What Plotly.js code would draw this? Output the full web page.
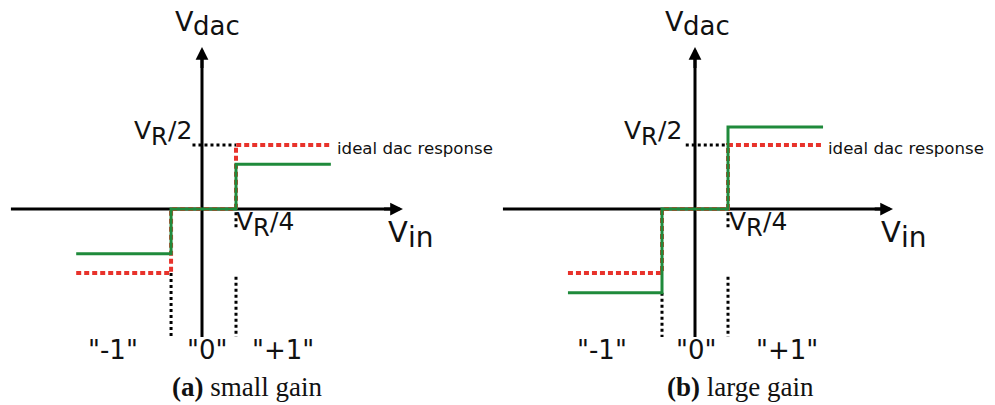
<!DOCTYPE html>
<html>
<head>
<meta charset="utf-8">
<script src="https://cdn.plot.ly/plotly-3.0.1.min.js"></script>
<style>
  html, body { margin: 0; padding: 0; background: #ffffff; }
  #chart { width: 995px; height: 405px; }
</style>
</head>
<body>
<div id="chart"></div>
<script>
// Quantizer output codes
const codes = ['"-1"', '"0"', '"+1"'];
// DAC output level for each code, in units of V_R/2
const idealLevels = [-1, 0, 1];
const smallGainLevels = [-0.70, 0, 0.70];
const largeGainLevels = [-1.31, 0, 1.28];
// Input breakpoints (start, lower threshold, upper threshold, end), in units of V_R/4
const edgesSmall = [-3.70, -0.91, 1.00, 3.79];
const edgesLarge = [-3.85, -1.00, 1.00, 3.88];
const panelTags = ['(a)', '(b)'];
const captions = ['small gain', 'large gain'];

const W = 995, H = 405;
const SANS = '"DejaVu Sans", Verdana, sans-serif';
const SERIF = '"Liberation Serif", "Times New Roman", serif';
const INK = '#111111';
const RED = '#e8322b';
const GREEN = '#1f8a3b';

// Vertical scale shared by both panels: row of the V_in axis and pixels per V_R/2
const Y0 = 209, UY = 64;
const yAxisSpan = [-2.0, 2.53];

const panels = [
  { xa: 'x',  axisPx: 202, ux: 34, edges: edgesSmall, gain: smallGainLevels, xAxis: [-5.62, 5.91], dx: 0 },
  { xa: 'x2', axisPx: 695, ux: 33, edges: edgesLarge, gain: largeGainLevels, xAxis: [-5.82, 6.00], dx: 493 }
];

const ctx = document.createElement('canvas').getContext('2d');
function measure(t, size, family, weight) {
  ctx.font = (weight || 'normal') + ' ' + size + 'px ' + family;
  return ctx.measureText(t).width;
}

const traces = [];
const shapes = [];
const annotations = [];

function stepY(levels) { return [levels[0], levels[1], levels[2], levels[2]]; }

// Text made of pieces with their own size and baseline drop (for V with subscripts)
function richLabel(parts, px, baseline, align) {
  const widths = parts.map(p => measure(p.t, p.size, SANS));
  const total = widths.reduce((a, b) => a + b, 0);
  let x = align === 'right' ? px - total : px;
  parts.forEach((p, i) => {
    const base = baseline + (p.drop || 0);
    annotations.push({
      xref: 'paper', yref: 'paper', x: x / W, y: 1 - (base - 0.346 * p.size) / H,
      xanchor: 'left', yanchor: 'middle', text: p.t, showarrow: false,
      borderpad: 0, borderwidth: 0, font: { family: SANS, size: p.size, color: INK }
    });
    x += widths[i];
  });
}

function plainLabel(text, px, baseline, anchor, size, family, k) {
  annotations.push({
    xref: 'paper', yref: 'paper', x: px / W, y: 1 - (baseline - k * size) / H,
    xanchor: anchor, yanchor: 'middle', text: text, showarrow: false,
    borderpad: 0, borderwidth: 0, font: { family: family, size: size, color: INK }
  });
}

panels.forEach((p, i) => {
  const e = p.edges;
  const low = Math.min(idealLevels[0], p.gain[0]);

  // Axes (lines under the data, arrowheads on top)
  shapes.push({ type: 'line', layer: 'below', xref: p.xa, yref: 'y',
    x0: p.xAxis[0], x1: p.xAxis[1] - 0.25, y0: 0, y1: 0, line: { color: '#000', width: 3 } });
  shapes.push({ type: 'line', layer: 'below', xref: p.xa, yref: 'y',
    x0: 0, x1: 0, y0: yAxisSpan[0], y1: yAxisSpan[1] - 0.13, line: { color: '#000', width: 3 } });
  annotations.push({ xref: p.xa, yref: 'y', axref: p.xa, ayref: 'y', x: p.xAxis[1], y: 0,
    ax: p.xAxis[1] - 0.6, ay: 0, text: '', showarrow: true, arrowhead: 2, arrowsize: 0.85,
    arrowwidth: 3, arrowcolor: '#000' });
  annotations.push({ xref: p.xa, yref: 'y', axref: p.xa, ayref: 'y', x: 0, y: yAxisSpan[1],
    ax: 0, ay: yAxisSpan[1] - 0.35, text: '', showarrow: true, arrowhead: 2, arrowsize: 0.85,
    arrowwidth: 3, arrowcolor: '#000' });

  // Dotted guide lines: V_R/2 level, code boundaries, V_R/4 tick
  traces.push({
    type: 'scatter', mode: 'lines', xaxis: p.xa, yaxis: 'y', hoverinfo: 'skip',
    x: [-0.28, e[2], null, e[1], e[1], null, e[2], e[2], null, e[2], e[2]],
    y: [idealLevels[2], idealLevels[2], null, low, yAxisSpan[0], null, -1.06, yAxisSpan[0], null, -0.05, -0.3],
    line: { color: '#000', width: 3, dash: 'dot' }
  });

  // Ideal DAC response
  traces.push({
    type: 'scatter', mode: 'lines', xaxis: p.xa, yaxis: 'y', hoverinfo: 'skip',
    x: e, y: stepY(idealLevels), line: { shape: 'hv', color: RED, width: 4, dash: '5px,3px' }
  });
  // Actual response with gain error
  traces.push({
    type: 'scatter', mode: 'lines', xaxis: p.xa, yaxis: 'y', hoverinfo: 'skip',
    x: e, y: stepY(p.gain), line: { shape: 'hv', color: GREEN, width: 3 }
  });

  const d = p.dx;
  richLabel([{ t: 'V', size: 27 }, { t: 'dac', size: 26, drop: 4 }], 175 + d - (i ? 3 : 0), 31, 'left');
  richLabel([{ t: 'V', size: 25 }, { t: 'R', size: 24, drop: 6 }, { t: '/2', size: 25 }], 192 + d - (i ? 3 : 0), 139, 'right');
  richLabel([{ t: 'V', size: 25 }, { t: 'R', size: 24, drop: 6 }, { t: '/4', size: 25 }], 236 + d, 230, 'left');
  richLabel([{ t: 'V', size: 29 }, { t: 'in', size: 28, drop: 5 }], 388 + d, 242, 'left');
  plainLabel('ideal dac response', 337 + d - (i ? 2 : 0), 154, 'left', 16.6, SANS, 0.346);

  const codeX = i ? [602, 696, 787] : [113, 207, 283];
  codes.forEach((c, k) => plainLabel(c, codeX[k], 359, 'center', 26, SANS, 0.346));

  plainLabel('<b>' + panelTags[i] + '</b> ' + captions[i], i ? 740 : 247, 396, 'center', 27, SERIF, 0.3375);
});

const layout = {
  width: W, height: H,
  margin: { l: 0, r: 0, t: 0, b: 0 },
  paper_bgcolor: '#ffffff', plot_bgcolor: '#ffffff',
  showlegend: false,
  xaxis:  { domain: [0, 0.5], range: [-panels[0].axisPx / panels[0].ux, (W / 2 - panels[0].axisPx) / panels[0].ux], visible: false, fixedrange: true },
  xaxis2: { domain: [0.5, 1], range: [(W / 2 - panels[1].axisPx) / panels[1].ux, (W - panels[1].axisPx) / panels[1].ux], visible: false, fixedrange: true, anchor: 'y' },
  yaxis:  { domain: [0, 1], range: [(Y0 - H) / UY, Y0 / UY], visible: false, fixedrange: true },
  shapes: shapes,
  annotations: annotations
};

Plotly.newPlot('chart', traces, layout, { staticPlot: true, displayModeBar: false });
</script>
</body>
</html>
